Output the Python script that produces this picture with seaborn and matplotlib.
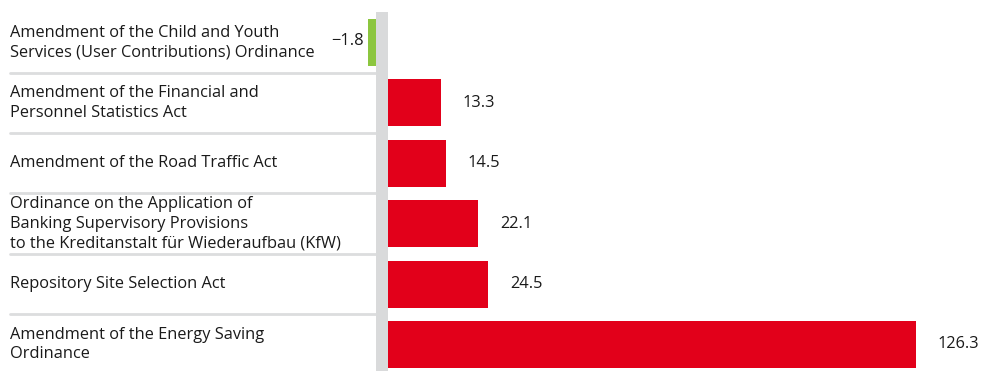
import matplotlib
matplotlib.use("Agg")
import matplotlib.pyplot as plt
import matplotlib.transforms as mtransforms
import seaborn as sns
import pandas as pd

categories = [
    "Amendment of the Child and Youth\nServices (User Contributions) Ordinance",
    "Amendment of the Financial and\nPersonnel Statistics Act",
    "Amendment of the Road Traffic Act",
    "Ordinance on the Application of\nBanking Supervisory Provisions\nto the Kreditanstalt für Wiederaufbau (KfW)",
    "Repository Site Selection Act",
    "Amendment of the Energy Saving\nOrdinance",
]
values = [-1.8, 13.3, 14.5, 22.1, 24.5, 126.3]
value_labels = ["\u22121.8", "13.3", "14.5", "22.1", "24.5", "126.3"]

RED = "#E2001A"
GREEN = "#8CC63F"
BAND = "#D9DADB"
SEP = "#DCDDDE"
TEXT = "#1a1a1a"

df = pd.DataFrame({"cat": categories, "val": values})
df["sign"] = ["neg" if v < 0 else "pos" for v in values]

sns.set_theme(style="white")
plt.rcParams["font.family"] = ["Open Sans", "DejaVu Sans"]

W, H = 984, 371
fig = plt.figure(figsize=(W / 100, H / 100), dpi=100)
top_px, row_px = 12.3, 60.4
ax_h = row_px * len(categories)
ax = fig.add_axes([0, (H - top_px - ax_h) / H, 1, ax_h / H])

ppu = 4.204  # pixels per unit
zero_px = 385
ax.set_xlim(-zero_px / ppu, (W - zero_px) / ppu)

sns.barplot(data=df, y="cat", x="val", hue="sign",
            palette={"neg": GREEN, "pos": RED}, orient="h",
            width=0.78, ax=ax, legend=False, saturation=1, dodge=False)
ax.set_ylim(len(categories) - 0.5, -0.5)

band_l = (376 - zero_px) / ppu
band_r = (388 - zero_px) / ppu
for p in ax.patches:
    p.set_edgecolor("none")
    if p.get_width() < 0:
        p.set_x(p.get_x() + band_l)
ax.axvspan(band_l, band_r, color=BAND, zorder=5, lw=0)

# separators
for i in range(len(categories) - 1):
    ax.axhline(i + 0.5, xmin=10 / W, xmax=376 / W, color=SEP, lw=2, zorder=1)

# category labels
FS = 11.8
trans = mtransforms.blended_transform_factory(ax.transAxes, ax.transData)
for i, c in enumerate(categories):
    ax.text(10 / W, i, c, transform=trans, ha="left", va="center",
            fontsize=FS, color=TEXT, linespacing=1.3)

# value labels
for i, (v, lab) in enumerate(zip(values, value_labels)):
    if v < 0:
        ax.text(band_l + v - 5 / ppu, i - 0.03, lab, ha="right", va="center",
                fontsize=FS, color=TEXT)
    else:
        ax.text(v + 22 / ppu, i, lab, ha="left", va="center",
                fontsize=FS, color=TEXT)

ax.set_xlabel("")
ax.set_ylabel("")
ax.set_xticks([])
ax.set_yticks([])
for s in ax.spines.values():
    s.set_visible(False)

fig.savefig("out.png", dpi=100)
